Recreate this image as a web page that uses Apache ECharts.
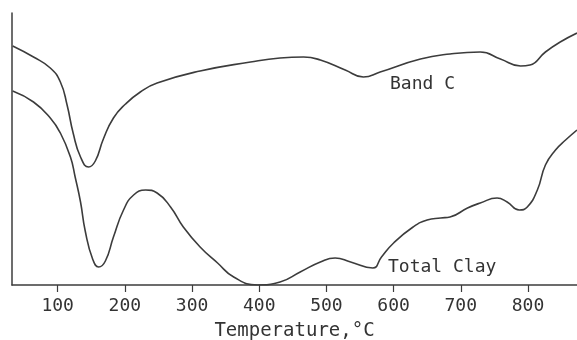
<!DOCTYPE html>
<html>
<head>
<meta charset="utf-8">
<script src="https://cdn.jsdelivr.net/npm/echarts@6/dist/echarts.min.js"></script>
<style>
html,body{margin:0;padding:0;background:#fff;}
#chart{width:577px;height:340px;}
</style>
</head>
<body>
<div id="chart"></div>
<script>
// Temperature (°C) and relative trace deflection (arbitrary units)
var bandCTemp = [33, 64, 89, 104, 114, 123, 134, 146, 156, 168, 183, 201, 223, 248, 312, 387, 431, 466, 491, 528, 555, 580, 640, 684, 729, 759, 789, 803, 826, 848, 873];
var bandCVal  = [239, 228, 217, 203, 180, 152, 128, 118, 124, 146, 167, 181, 193, 202, 214, 223, 227, 228, 225, 215, 208, 213, 226, 231, 233, 226, 219, 220, 233, 243, 252];

var clayTemp = [33, 64, 89, 104, 119, 126, 134, 141, 152, 161, 171, 183, 198, 213, 231, 248, 268, 287, 312, 338, 362, 397, 431, 461, 491, 513, 536, 569, 582, 600, 629, 650, 670, 684, 710, 729, 754, 769, 787, 799, 814, 826, 841, 856, 873];
var clayVal  = [194, 183, 167, 152, 128, 108, 83, 54, 26, 18, 24, 48, 75, 90, 95, 92, 78, 58, 38, 22, 8, 0, 3, 13, 23, 27, 23, 17, 28, 42, 58, 65, 67, 68, 77, 82, 87, 83, 75, 78, 95, 120, 135, 145, 155];

var xTicks = [100, 200, 300, 400, 500, 600, 700, 800];
var xTitle = 'Temperature,°C';
var curveLabels = ['Band C', 'Total Clay'];

function pairs(t, v) { return t.map(function (x, i) { return [x, v[i]]; }); }

var chart = echarts.init(document.getElementById('chart'), null, {renderer: 'canvas'});
var lineColor = '#3c3c3c';
var fontFam = '"DejaVu Sans Mono", monospace';

chart.setOption({
  animation: false,
  backgroundColor: '#ffffff',
  grid: {left: 12, right: 0, top: 13, bottom: 55, containLabel: false, outerBoundsMode: 'none'},
  xAxis: {
    type: 'value', min: 32, max: 873,
    axisLine: {show: true, lineStyle: {color: lineColor, width: 1.5}},
    axisTick: {show: true, length: 7, lineStyle: {color: lineColor, width: 1.2},
      customValues: xTicks},
    axisLabel: {show: true, color: '#333', fontFamily: fontFam, fontSize: 18, margin: 12,
      customValues: xTicks},
    splitLine: {show: false},
    name: xTitle, nameLocation: 'middle', nameGap: 37,
    nameTextStyle: {color: '#333', fontFamily: fontFam, fontSize: 19}
  },
  yAxis: {
    type: 'value', min: 0, max: 272,
    axisLine: {show: true, lineStyle: {color: lineColor, width: 1.5}},
    axisTick: {show: false}, axisLabel: {show: false}, splitLine: {show: false}
  },
  series: [
    {name: curveLabels[0], type: 'line', data: pairs(bandCTemp, bandCVal), smooth: 0.5,
     symbol: 'none', lineStyle: {color: lineColor, width: 1.6}},
    {name: curveLabels[1], type: 'line', data: pairs(clayTemp, clayVal), smooth: 0.5,
     symbol: 'none', lineStyle: {color: lineColor, width: 1.6}}
  ],
  graphic: [
    {type: 'text', left: 390, top: 75, style: {text: curveLabels[0], fill: '#333', font: '18px ' + fontFam}},
    {type: 'text', left: 388, top: 258, style: {text: curveLabels[1], fill: '#333', font: '18px ' + fontFam}}
  ]
});
</script>
</body>
</html>
